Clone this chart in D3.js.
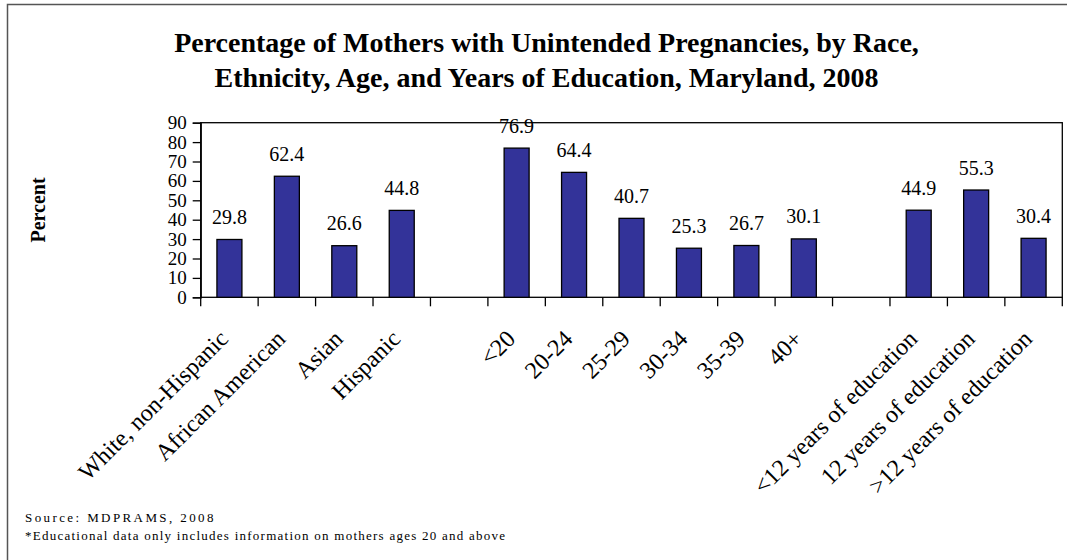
<!DOCTYPE html>
<html>
<head>
<meta charset="utf-8">
<script src="https://cdn.jsdelivr.net/npm/d3@7"></script>
<style>
  body { margin: 0; background: #fff; }
  text { font-family: "Liberation Serif", "Times New Roman", serif; }
</style>
</head>
<body>
<div id="chart"></div>
<script>
// values
var raceLabels = ["White, non-Hispanic", "African American", "Asian", "Hispanic"];
var raceValues = [29.8, 62.4, 26.6, 44.8];
var ageLabels = ["<20", "20-24", "25-29", "30-34", "35-39", "40+"];
var ageValues = [76.9, 64.4, 40.7, 25.3, 26.7, 30.1];
var eduLabels = ["<12 years of education", "12 years of education", ">12 years of education"];
var eduValues = [44.9, 55.3, 30.4];
var yTicks = [0, 10, 20, 30, 40, 50, 60, 70, 80, 90];

var titleLines = ["Percentage of Mothers with Unintended Pregnancies, by Race,",
                  "Ethnicity, Age, and Years of Education, Maryland, 2008"];

var serif = "'Liberation Serif', 'Times New Roman', serif";

// build slots, an empty slot between each group
var slots = [];
function addGroup(labels, values) {
    for (var i = 0; i < labels.length; i++) {
        slots.push({ key: labels[i], label: labels[i], value: values[i] });
    }
}
addGroup(raceLabels, raceValues);
slots.push({ key: "gap1", label: "", value: null });
addGroup(ageLabels, ageValues);
slots.push({ key: "gap2", label: "", value: null });
addGroup(eduLabels, eduValues);

var width = 1067, height = 560;
var plotL = 200.7, plotR = 1062.3, plotT = 122.7, plotB = 297.3;

var svg = d3.select("#chart").append("svg")
    .attr("width", width)
    .attr("height", height);

// outer frame
svg.append("rect")
    .attr("x", 7.5).attr("y", 4.5)
    .attr("width", 1080).attr("height", 580)
    .attr("fill", "none")
    .attr("stroke", "#555")
    .attr("stroke-width", 1.5);

var title = svg.append("text")
    .attr("text-anchor", "middle")
    .attr("font-weight", "bold")
    .attr("font-size", 28)
    .style("font-family", serif);
title.selectAll("tspan")
    .data(titleLines)
    .enter().append("tspan")
    .attr("x", 546.5)
    .attr("y", function(d, i) { return 51.5 + i * 35; })
    .text(function(d) { return d; });

var x = d3.scaleBand()
    .domain(slots.map(function(d) { return d.key; }))
    .range([plotL, plotR])
    .padding(0);

var y = d3.scaleLinear()
    .domain([0, 90])
    .range([plotB, plotT]);

var barW = x.bandwidth() * 0.435;

// plot frame
svg.append("rect")
    .attr("x", plotL).attr("y", plotT)
    .attr("width", plotR - plotL).attr("height", plotB - plotT)
    .attr("fill", "none")
    .attr("stroke", "#000")
    .attr("stroke-width", 1.3);

// y axis
var yAxis = svg.append("g")
    .attr("transform", "translate(" + plotL + ",0)")
    .call(d3.axisLeft(y).tickValues(yTicks).tickSize(8).tickPadding(6));
yAxis.select(".domain").attr("stroke", "#000").attr("stroke-width", 1.3);
yAxis.selectAll("line").attr("stroke", "#000").attr("stroke-width", 1.3);
yAxis.selectAll("text")
    .attr("font-size", 19)
    .style("font-family", serif)
    .attr("fill", "#000");

svg.append("text")
    .attr("transform", "translate(45,210) rotate(-90)")
    .attr("text-anchor", "middle")
    .attr("font-weight", "bold")
    .attr("font-size", 20)
    .style("font-family", serif)
    .text("Percent");

// x ticks at slot boundaries
var bounds = slots.map(function(d) { return x(d.key); }).concat([plotR]);
svg.selectAll(".xtick")
    .data(bounds)
    .enter().append("line")
    .attr("class", "xtick")
    .attr("x1", function(d) { return d; })
    .attr("x2", function(d) { return d; })
    .attr("y1", plotB)
    .attr("y2", plotB + 9)
    .attr("stroke", "#000")
    .attr("stroke-width", 1.3);

var filled = slots.filter(function(d) { return d.value !== null; });

svg.selectAll(".bar")
    .data(filled)
    .enter().append("rect")
    .attr("class", "bar")
    .attr("x", function(d) { return x(d.key) + (x.bandwidth() - barW) / 2; })
    .attr("y", function(d) { return y(d.value); })
    .attr("width", barW)
    .attr("height", function(d) { return plotB - y(d.value); })
    .attr("fill", "#333399")
    .attr("stroke", "#000")
    .attr("stroke-width", 1.3);

svg.selectAll(".val")
    .data(filled)
    .enter().append("text")
    .attr("class", "val")
    .attr("x", function(d) { return x(d.key) + x.bandwidth() / 2; })
    .attr("y", function(d) { return y(d.value) - 15.5; })
    .attr("text-anchor", "middle")
    .attr("font-size", 20)
    .style("font-family", serif)
    .text(function(d) { return d.value.toFixed(1); });

svg.selectAll(".xlab")
    .data(filled)
    .enter().append("text")
    .attr("class", "xlab")
    .attr("transform", function(d) {
        return "translate(" + (x(d.key) + x.bandwidth() / 2) + "," + (plotB + 43) + ") rotate(-45)";
    })
    .attr("text-anchor", "end")
    .attr("font-size", 24)
    .style("font-family", serif)
    .text(function(d) { return d.label; });

// footnotes
svg.append("text")
    .attr("x", 25).attr("y", 522)
    .attr("font-size", 13)
    .attr("letter-spacing", 2.4)
    .style("font-family", serif)
    .text("Source: MDPRAMS, 2008");
svg.append("text")
    .attr("x", 25).attr("y", 540)
    .attr("font-size", 13)
    .attr("letter-spacing", 1.25)
    .style("font-family", serif)
    .text("*Educational data only includes information on mothers ages 20 and above");
</script>
</body>
</html>
